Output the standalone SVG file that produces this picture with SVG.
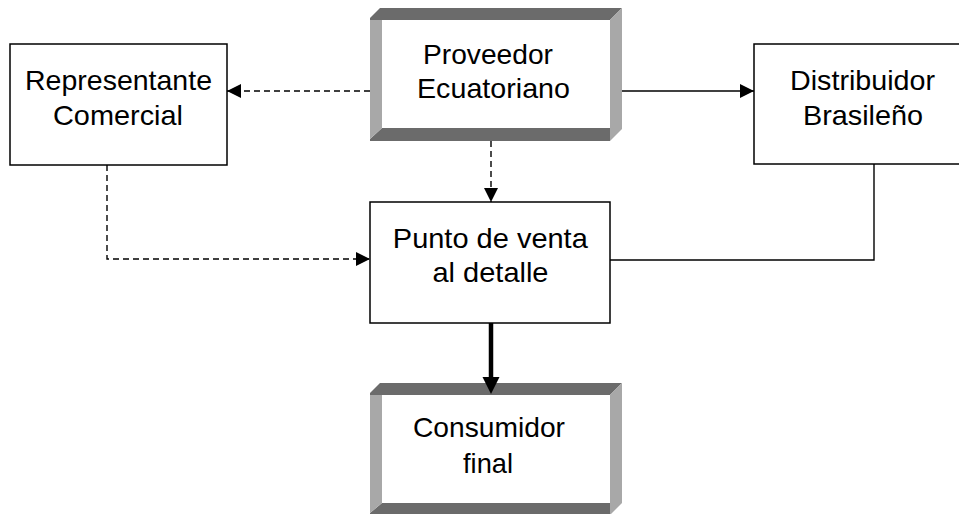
<svg xmlns="http://www.w3.org/2000/svg" width="959" height="514" viewBox="0 0 959 514">
<style>
  .box { fill: #ffffff; stroke: #000000; stroke-width: 1.5; }
  .inner { fill: #ffffff; stroke: none; }
  .dark { fill: #6b6b6b; }
  .light { fill: #a8a8a8; }
  .lbl { font-family: "Liberation Sans", Arial, sans-serif; font-size: 28px; fill: #000000; text-anchor: middle; }
  .conn { fill: none; stroke: #000000; stroke-width: 1.4; }
  .dash { stroke-dasharray: 6 4; }
  .bold { stroke-width: 4.5; }
</style>
<defs>
  <marker id="arr" markerUnits="userSpaceOnUse" markerWidth="15" markerHeight="14" refX="14" refY="7" orient="auto">
    <path d="M0,0 L14,7 L0,14 Z" fill="#000000"/>
  </marker>
</defs>
<rect x="0" y="0" width="959" height="514" fill="#ffffff"/>

<g id="proveedor">
  <polygon class="dark" points="370,20 370,18 380,8 622,8 610,20"/>
  <polygon class="dark" points="370,141 370,139 382,128 610,128 610,141"/>
  <polygon class="light" points="370,20 382,20 382,128 370,139"/>
  <polygon class="light" points="610,20 622,8 622,129 610,141"/>
  <rect class="inner" x="382" y="20" width="228" height="108"/>
  <text class="lbl" x="488" y="64" textLength="130" lengthAdjust="spacingAndGlyphs">Proveedor</text>
  <text class="lbl" x="493.5" y="97.5" textLength="153" lengthAdjust="spacingAndGlyphs">Ecuatoriano</text>
</g>

<g id="representante">
  <rect class="box" x="10" y="44" width="217" height="121"/>
  <text class="lbl" x="118.5" y="89.5" textLength="187" lengthAdjust="spacingAndGlyphs">Representante</text>
  <text class="lbl" x="118" y="124.5" textLength="130" lengthAdjust="spacingAndGlyphs">Comercial</text>
</g>

<g id="distribuidor">
  <rect class="box" x="754" y="44" width="218" height="120"/>
  <text class="lbl" x="862.5" y="90" textLength="145" lengthAdjust="spacingAndGlyphs">Distribuidor</text>
  <text class="lbl" x="863" y="124.5" textLength="120" lengthAdjust="spacingAndGlyphs">Brasileño</text>
</g>

<g id="punto">
  <rect class="box" x="370" y="202" width="240" height="121"/>
  <text class="lbl" x="490.3" y="247.5" textLength="195" lengthAdjust="spacingAndGlyphs">Punto de venta</text>
  <text class="lbl" x="490.5" y="282" textLength="116" lengthAdjust="spacingAndGlyphs">al detalle</text>
</g>

<g id="consumidor">
  <polygon class="dark" points="370,395 370,393 380,383 622,383 610,395"/>
  <polygon class="dark" points="370,514 370,513 382,503 610,503 610,514"/>
  <polygon class="light" points="370,395 382,395 382,503 370,513"/>
  <polygon class="light" points="610,395 622,383 622,503 611,514 610,514"/>
  <rect class="inner" x="382" y="395" width="228" height="108"/>
  <text class="lbl" x="489" y="437" textLength="152" lengthAdjust="spacingAndGlyphs">Consumidor</text>
  <text class="lbl" x="488" y="473" textLength="50" lengthAdjust="spacingAndGlyphs">final</text>
</g>

<g id="connectors">
  <line class="conn dash" x1="370" y1="91" x2="227" y2="91" marker-end="url(#arr)"/>
  <line class="conn" x1="622" y1="91" x2="754" y2="91" marker-end="url(#arr)"/>
  <line class="conn dash" x1="491" y1="141" x2="491" y2="202" marker-end="url(#arr)"/>
  <polyline class="conn dash" points="107,165 107,259 370,259" marker-end="url(#arr)"/>
  <polyline class="conn" points="874,164 874,260 610,260"/>
  <line class="conn bold" x1="491" y1="323" x2="491" y2="378"/>
  <path d="M482.5,377 L499.5,377 L491,394 Z" fill="#000000"/>
</g>
</svg>
